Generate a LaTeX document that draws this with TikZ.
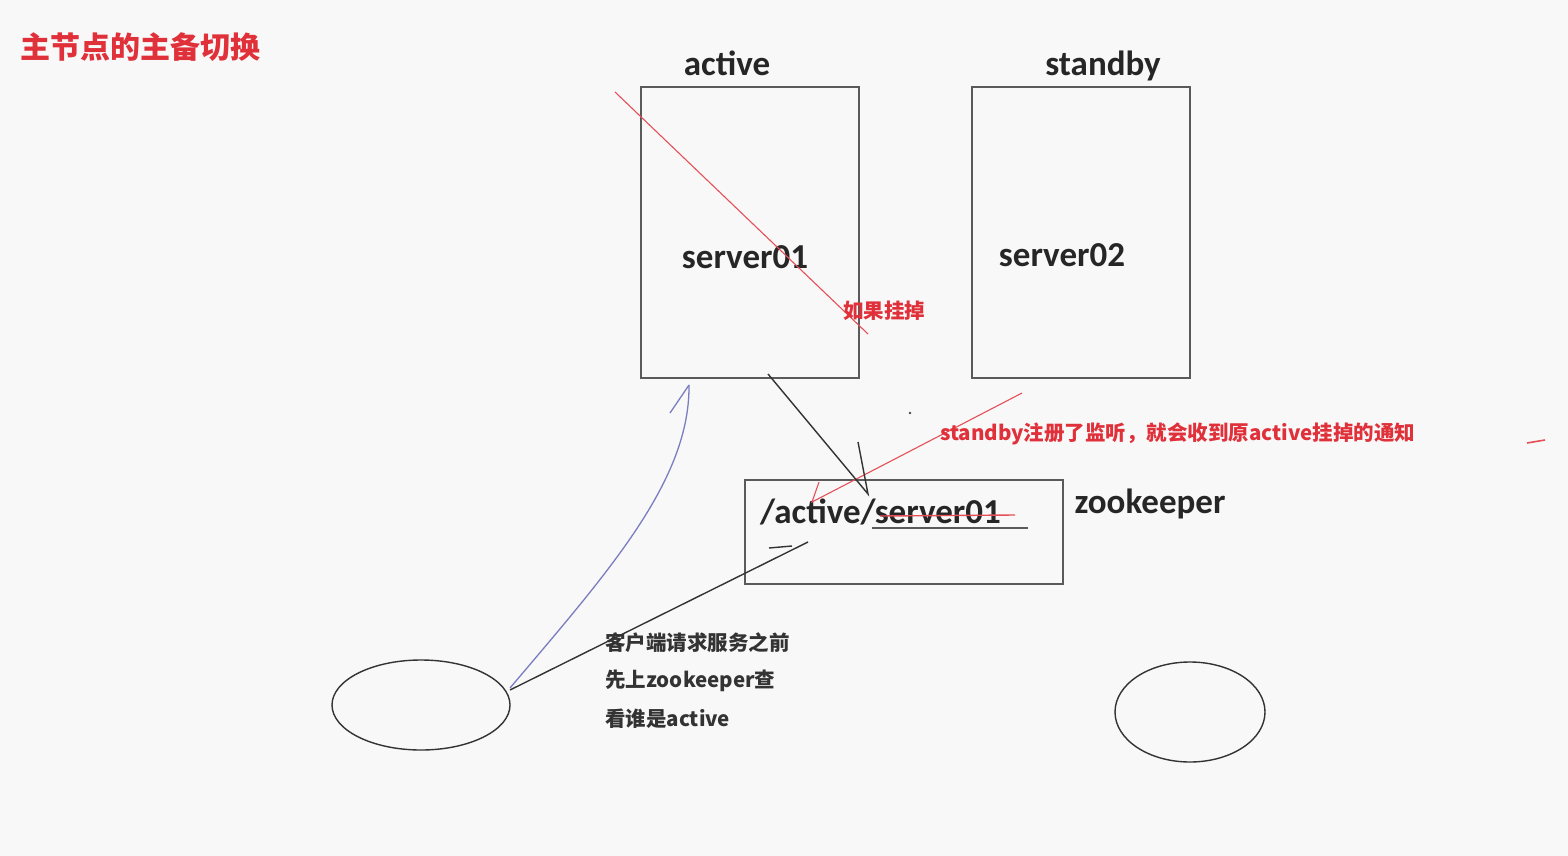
\documentclass[tikz,border=0pt]{standalone}
\usepackage{fontspec}
\setmainfont{Carlito}
\newfontfamily\cjk{Noto Sans CJK SC}
\usetikzlibrary{arrows.meta,shapes.geometric}
\definecolor{bg}{HTML}{F8F8F8}
\definecolor{boxc}{HTML}{5A5A5A}
\definecolor{redc}{HTML}{E0303A}
\definecolor{bluec}{HTML}{7A7EC0}
\tikzset{
  srv/.style={draw=boxc,line width=2pt,minimum width=218pt,minimum height=291pt,inner sep=0pt},
  zk/.style={draw=boxc,line width=1.6pt,minimum width=318pt,minimum height=104pt,inner sep=0pt},
  big/.style={font=\fontsize{35}{40}\selectfont\bfseries,text=black!85,inner sep=0pt},
  note/.style={font=\cjk\bfseries\fontsize{20.5}{24}\selectfont,inner sep=0pt,text=black!80},
  rnote/.style={note,text=redc},
  client/.style={draw=black!80,line width=1.4pt,ellipse,inner sep=0pt},
  blk/.style={draw=black!80,line width=1.4pt},
  rl/.style={draw=redc!85,line width=1.1pt},
}
\begin{document}
\begin{tikzpicture}[x=1pt,y=-1pt]
\fill[bg] (0,0) rectangle (1568,856);
\useasboundingbox (0,0) rectangle (1568,856);

\node[anchor=west,text=redc,inner sep=0pt,font=\cjk\bfseries\fontsize{30}{34}\selectfont] (title) at (20,47) {主节点的主备切换};

\node[srv] (s1) at (750,232.5) {};
\node[srv] (s2) at (1080.5,232.5) {};
\node[big,anchor=base] (lact) at (727,76) {active};
\node[big,anchor=base] (lsb) at (1103,76) {standby};
\node[big] (t1) at (745,257) {server01};
\node[big] (t2) at (1062,255) {server02};

\node[zk] (zkbox) at (904,532) {};
\node[big,anchor=west] (zkt) at (760,512) {/active/server01};
\node[big] (zkl) at (1150,504) {zookeeper};

\node[client,minimum width=178pt,minimum height=90pt] (c1) at (421,705) {};
\node[client,minimum width=150pt,minimum height=100pt] (c2) at (1190,712) {};

% red cross-out of server01
\coordinate (ra) at (615,92);
\coordinate (rb) at (868,334);
\draw[rl] (ra) -- (rb);
\node[rnote,anchor=west] (dead) at (843,311) {如果挂掉};

% red watch arrow
\coordinate (wa) at (1022,393);
\coordinate (wb) at (812,502);
\coordinate (wc) at (819,482);
\draw[rl] (wa) -- (wb) -- (wc);
\node[rnote,anchor=west] (watch) at (940,434) {standby注册了监听，就会收到原active挂掉的通知};
\coordinate (m1) at (1527,443);
\coordinate (m2) at (1545,440);
\draw[rl,line width=1.6pt] (m1) -- (m2);

% strike and underline
\coordinate (sa) at (880,516);
\coordinate (sb) at (1015,515);
\draw[rl,line width=1.4pt] (sa) -- (sb);
\coordinate (ua) at (872,528);
\coordinate (ub) at (1028,528);
\draw[draw=boxc,line width=1.6pt] (ua) -- (ub);

% black register arrow
\coordinate (ka) at (768,374);
\coordinate (kb) at (868,494);
\coordinate (kc) at (858,442);
\draw[blk] (ka) -- (kb) -- (kc);
\coordinate (dot) at (910,413);
\fill[black!70] (dot) circle (1.4pt);

% client query arrow
\coordinate (qa) at (510,690);
\coordinate (qb) at (808,542);
\coordinate (qc) at (769,548);
\coordinate (qd) at (792,546);
\draw[blk] (qa) -- (qb);
\draw[blk] (qc) -- (qd);
\node[note,anchor=west] (n1) at (605,643) {客户端请求服务之前};
\node[note,anchor=west] (n2) at (605,681) {先上zookeeper查};
\node[note,anchor=west] (n3) at (605,719) {看谁是active};

% blue curve
\coordinate (ba) at (510,688);
\coordinate (bb) at (689,385);
\coordinate (bc) at (670,413);
\draw[draw=bluec,line width=1.3pt] (ba) .. controls (610,570) and (690,480) .. (bb);
\draw[draw=bluec,line width=1.3pt] (bc) -- (bb);
\end{tikzpicture}
\end{document}
